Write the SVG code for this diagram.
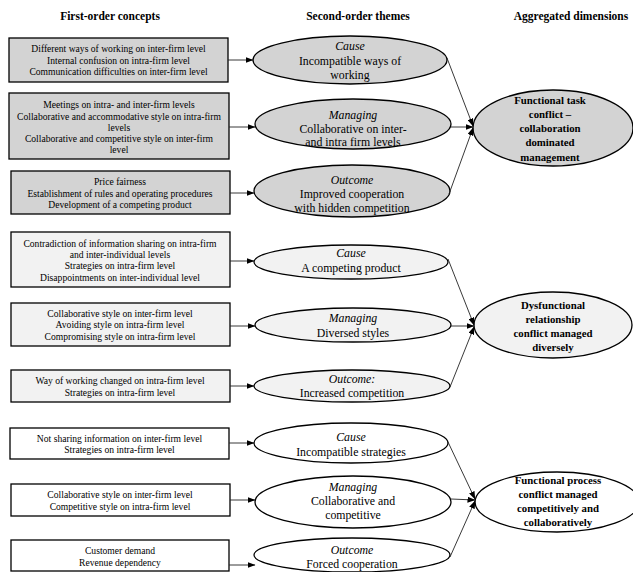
<svg xmlns="http://www.w3.org/2000/svg" width="633" height="572" viewBox="0 0 633 572">
<defs>
<marker id="ah" markerUnits="userSpaceOnUse" markerWidth="8" markerHeight="6" refX="7.5" refY="3" orient="auto">
<path d="M0,0 L8,3 L0,6 Z" fill="#000"/>
</marker>
<style>
.hdr{font-family:"Liberation Serif",serif;font-weight:bold;font-size:11.5px;text-anchor:middle;fill:#000}
.bx{stroke:#000;stroke-width:1.3}
.bt{font-family:"Liberation Serif",serif;font-size:9.6px;text-anchor:middle;fill:#000}
.el{stroke:#000;stroke-width:1.3}
.et{font-family:"Liberation Serif",serif;font-size:11.8px;text-anchor:middle;fill:#000}
.it{font-style:italic}
.dt{font-family:"Liberation Serif",serif;font-size:10.8px;font-weight:bold;text-anchor:middle;fill:#000}
.g1{fill:#d3d3d3}
.g2{fill:#f2f2f2}
.g3{fill:#ffffff}
.cn{stroke:#222;stroke-width:0.9;fill:none;marker-end:url(#ah)}
</style>
</defs>
<rect width="633" height="572" fill="#fff"/>
<g id="headers">
<text class="hdr" x="110" y="20">First-order concepts</text>
<text class="hdr" x="358" y="20">Second-order themes</text>
<text class="hdr" x="571" y="20">Aggregated dimensions</text>
</g>
<g id="box1"><rect class="bx g1" x="9" y="38" width="219" height="44"/>
<text class="bt" x="118.5"><tspan x="118.5" y="52.3">Different ways of working on inter-firm level</tspan><tspan x="118.5" y="64">Internal confusion on intra-firm level</tspan><tspan x="118.5" y="75.3">Communication difficulties on inter-firm level</tspan></text></g>
<g id="box2"><rect class="bx g1" x="9" y="93" width="220" height="66"/>
<text class="bt"><tspan x="119" y="108.3">Meetings on intra- and inter-firm levels</tspan><tspan x="119" y="119.8">Collaborative and accommodative style on intra-firm</tspan><tspan x="119" y="130.5">levels</tspan><tspan x="119" y="141.5">Collaborative and competitive style on inter-firm</tspan><tspan x="119" y="153">level</tspan></text></g>
<g id="box3"><rect class="bx g1" x="11" y="171" width="219" height="43"/>
<text class="bt"><tspan x="120" y="185.3">Price fairness</tspan><tspan x="120" y="196.5">Establishment of rules and operating procedures</tspan><tspan x="120" y="207.5">Development of a competing product</tspan></text></g>
<g id="box4"><rect class="bx g2" x="11" y="232" width="219" height="55"/>
<text class="bt"><tspan x="120" y="246.5">Contradiction of information sharing on intra-firm</tspan><tspan x="120" y="257.5">and inter-individual levels</tspan><tspan x="120" y="268.8">Strategies on intra-firm level</tspan><tspan x="120" y="280.5">Disappointments on inter-individual level</tspan></text></g>
<g id="box5"><rect class="bx g2" x="11" y="303" width="219" height="43"/>
<text class="bt"><tspan x="120" y="317.3">Collaborative style on inter-firm level</tspan><tspan x="120" y="328.3">Avoiding  style on intra-firm level</tspan><tspan x="120" y="339.5">Compromising style on intra-firm level</tspan></text></g>
<g id="box6"><rect class="bx g2" x="11" y="370" width="219" height="32"/>
<text class="bt"><tspan x="120" y="384.3">Way of working changed on intra-firm level</tspan><tspan x="120" y="395.5">Strategies on intra-firm level</tspan></text></g>
<g id="box7"><rect class="bx g3" x="10" y="428" width="219" height="31"/>
<text class="bt"><tspan x="119.5" y="441.5">Not sharing information on inter-firm level</tspan><tspan x="119.5" y="452.5">Strategies on intra-firm level</tspan></text></g>
<g id="box8"><rect class="bx g3" x="11" y="484" width="219" height="32"/>
<text class="bt"><tspan x="120" y="498.3">Collaborative style on inter-firm level</tspan><tspan x="120" y="509.5">Competitive style on intra-firm level</tspan></text></g>
<g id="box9"><rect class="bx g3" x="11" y="540" width="218" height="31"/>
<text class="bt"><tspan x="120" y="554.3">Customer demand</tspan><tspan x="120" y="565.5">Revenue dependency</tspan></text></g>

<g id="theme1"><ellipse class="el g1" cx="350" cy="60" rx="97" ry="24"/>
<text class="et"><tspan class="it" x="350" y="50">Cause</tspan><tspan x="350" y="65">Incompatible ways of</tspan><tspan x="350" y="79">working</tspan></text></g>
<g id="theme2"><ellipse class="el g1" cx="353" cy="124" rx="98" ry="25"/>
<text class="et"><tspan class="it" x="353" y="119">Managing</tspan><tspan x="353" y="132.5">Collaborative on inter-</tspan><tspan x="353" y="146">and intra firm levels</tspan></text></g>
<g id="theme3"><ellipse class="el g1" cx="352" cy="191" rx="98" ry="26"/>
<text class="et"><tspan class="it" x="352" y="184">Outcome</tspan><tspan x="352" y="198">Improved cooperation</tspan><tspan x="352" y="211.5">with hidden competition</tspan></text></g>
<g id="theme4"><ellipse class="el g2" cx="351" cy="262" rx="97" ry="17"/>
<text class="et"><tspan class="it" x="351" y="257">Cause</tspan><tspan x="351" y="272">A competing product</tspan></text></g>
<g id="theme5"><ellipse class="el g2" cx="353" cy="325" rx="98" ry="17"/>
<text class="et"><tspan class="it" x="353" y="322">Managing</tspan><tspan x="353" y="337">Diversed styles</tspan></text></g>
<g id="theme6"><ellipse class="el g2" cx="352" cy="386" rx="98" ry="16"/>
<text class="et"><tspan class="it" x="352" y="383">Outcome:</tspan><tspan x="352" y="397">Increased  competition</tspan></text></g>
<g id="theme7"><ellipse class="el g3" cx="351" cy="443" rx="97" ry="20"/>
<text class="et"><tspan class="it" x="351" y="441">Cause</tspan><tspan x="351" y="456">Incompatible strategies</tspan></text></g>
<g id="theme8"><ellipse class="el g3" cx="353" cy="502" rx="98" ry="26"/>
<text class="et"><tspan class="it" x="353" y="491">Managing</tspan><tspan x="353" y="505">Collaborative and</tspan><tspan x="353" y="519">competitive</tspan></text></g>
<g id="theme9"><ellipse class="el g3" cx="352" cy="555" rx="98" ry="17"/>
<text class="et"><tspan class="it" x="352" y="554">Outcome</tspan><tspan x="352" y="568">Forced cooperation</tspan></text></g>

<g id="dim1"><ellipse class="el g1" cx="553" cy="128" rx="80" ry="38"/>
<text class="dt"><tspan x="550" y="104">Functional task</tspan><tspan x="550" y="118">conflict –</tspan><tspan x="550" y="132">collaboration</tspan><tspan x="550" y="146">dominated</tspan><tspan x="550" y="161">management</tspan></text></g>
<g id="dim2"><ellipse class="el g2" cx="553" cy="325" rx="79" ry="33"/>
<text class="dt"><tspan x="553" y="309">Dysfunctional</tspan><tspan x="553" y="323">relationship</tspan><tspan x="553" y="337">conflict managed</tspan><tspan x="553" y="351">diversely</tspan></text></g>
<g id="dim3"><ellipse class="el g3" cx="557" cy="502" rx="82" ry="30"/>
<text class="dt"><tspan x="558" y="484">Functional process</tspan><tspan x="558" y="498">conflict managed</tspan><tspan x="558" y="512">competitively and</tspan><tspan x="558" y="526">collaboratively</tspan></text></g>

<g id="connectors">
<line class="cn" x1="228" y1="60" x2="253" y2="60"/>
<line class="cn" x1="229" y1="127" x2="255" y2="127"/>
<line class="cn" x1="230" y1="193" x2="254" y2="193"/>
<line class="cn" x1="230" y1="261" x2="254" y2="261"/>
<line class="cn" x1="230" y1="326" x2="255" y2="326"/>
<line class="cn" x1="230" y1="386" x2="254" y2="386"/>
<line class="cn" x1="229" y1="443" x2="254" y2="443"/>
<line class="cn" x1="230" y1="500" x2="255" y2="500"/>
<line class="cn" x1="229" y1="565" x2="255" y2="565"/>
<line class="cn" x1="447" y1="58" x2="473" y2="126"/>
<line class="cn" x1="451" y1="127" x2="473" y2="127"/>
<line class="cn" x1="449" y1="194" x2="473" y2="128"/>
<line class="cn" x1="448" y1="259" x2="474" y2="325"/>
<line class="cn" x1="451" y1="326" x2="474" y2="326"/>
<line class="cn" x1="450" y1="387" x2="474" y2="327"/>
<line class="cn" x1="448" y1="442" x2="475" y2="499"/>
<line class="cn" x1="451" y1="499" x2="475" y2="500"/>
<line class="cn" x1="450" y1="557" x2="475" y2="501"/>
</g>
</svg>
